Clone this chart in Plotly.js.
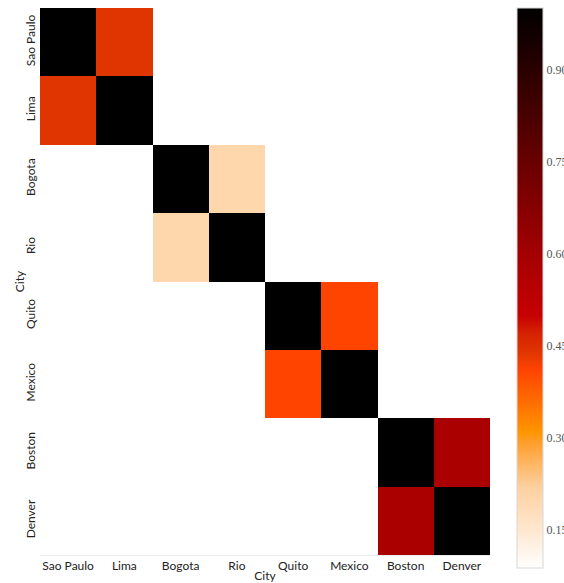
<!DOCTYPE html>
<html>
<head>
<meta charset="utf-8">
<script src="https://cdn.plot.ly/plotly-3.0.1.min.js"></script>
<style>
  html, body { margin: 0; padding: 0; background: #ffffff; }
  #chart { width: 564px; height: 583px; }
</style>
</head>
<body>
<div id="chart"></div>
<script>
// City similarity matrix (block diagonal; blank cells are unrelated pairs)
const cities = ["Sao Paulo", "Lima", "Bogota", "Rio", "Quito", "Mexico", "Boston", "Denver"];

const rowSaoPaulo = [1.00, 0.44, null, null, null, null, null, null];
const rowLima     = [0.44, 1.00, null, null, null, null, null, null];
const rowBogota   = [null, null, 1.00, 0.20, null, null, null, null];
const rowRio      = [null, null, 0.20, 1.00, null, null, null, null];
const rowQuito    = [null, null, null, null, 1.00, 0.41, null, null];
const rowMexico   = [null, null, null, null, 0.41, 1.00, null, null];
const rowBoston   = [null, null, null, null, null, null, 1.00, 0.58];
const rowDenver   = [null, null, null, null, null, null, 0.58, 1.00];

const colorTicks = [0.15, 0.30, 0.45, 0.60, 0.75, 0.90];

const z = [rowSaoPaulo, rowLima, rowBogota, rowRio, rowQuito, rowMexico, rowBoston, rowDenver];

const zmin = 0.088, zmax = 1.0;
// white -> peach -> orange -> red -> black, stops given in data units
const stops = [
  [0.088, "#ffffff"],
  [0.15,  "#ffe7cf"],
  [0.22,  "#fdd0a0"],
  [0.29,  "#ffa030"],
  [0.31,  "#ff9500"],
  [0.36,  "#ff6c00"],
  [0.41,  "#ff4400"],
  [0.44,  "#e03500"],
  [0.47,  "#d52200"],
  [0.50,  "#c60000"],
  [0.60,  "#a30000"],
  [0.75,  "#680000"],
  [0.90,  "#2a0000"],
  [1.00,  "#000000"]
];
const colorscale = stops.map(s => [(s[0] - zmin) / (zmax - zmin), s[1]]);

const sansFont = "Lato, 'Open Sans', sans-serif";

const trace = {
  type: "heatmap",
  x: cities,
  y: cities,
  z: z,
  zmin: zmin,
  zmax: zmax,
  colorscale: colorscale,
  hoverongaps: false,
  colorbar: {
    x: 1.06, xanchor: "left", xpad: 0,
    y: 0.488, yanchor: "middle", ypad: 0,
    len: 1.024, lenmode: "fraction",
    thickness: 26,
    outlinewidth: 1,
    outlinecolor: "#d8d8d8",
    tickvals: colorTicks,
    ticktext: colorTicks.map(v => v.toFixed(2)),
    ticks: "",
    ticklabelpad: 3,
    tickfont: { family: "'Liberation Serif', 'DejaVu Serif', serif", size: 12, color: "#555555" }
  }
};

const layout = {
  width: 564,
  height: 583,
  margin: { l: 40, r: 74, t: 8, b: 28, pad: 0, autoexpand: false },
  paper_bgcolor: "#ffffff",
  plot_bgcolor: "#ffffff",
  font: { family: sansFont, size: 12, color: "#222222" },
  xaxis: {
    title: { text: "City", font: { family: sansFont, size: 12, color: "#222222" }, standoff: 2 },
    tickfont: { family: sansFont, size: 12, color: "#222222" },
    showgrid: false, zeroline: false,
    showline: true, linecolor: "#ececec", linewidth: 1,
    ticks: "", ticklen: 0
  },
  yaxis: {
    title: { text: "City", font: { family: sansFont, size: 12, color: "#222222" }, standoff: 0 },
    tickfont: { family: sansFont, size: 12, color: "#222222" },
    tickangle: -90,
    ticklabelstandoff: 2,
    autorange: "reversed",
    showgrid: false, zeroline: false, showline: false,
    ticks: "", ticklen: 0
  }
};

Plotly.newPlot("chart", [trace], layout, { displayModeBar: false, staticPlot: true }).then(gd => {
  // nudge the y-axis title a little closer to its tick labels
  const t = gd.querySelector(".ytitle");
  if (t) t.setAttribute("transform", (t.getAttribute("transform") || "") + " translate(0,5)");
});
</script>
</body>
</html>
